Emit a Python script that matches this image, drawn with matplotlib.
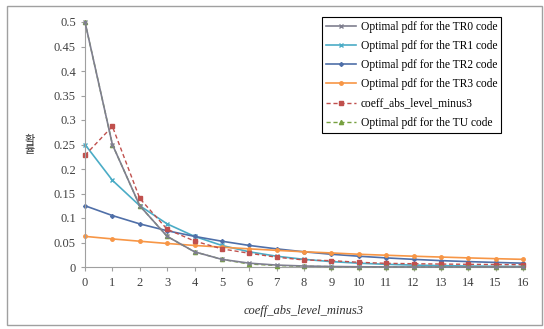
import matplotlib
matplotlib.use("Agg")
import matplotlib.pyplot as plt
from matplotlib.patches import Rectangle

x = list(range(17))
tr0 = [0.5, 0.25, 0.125, 0.0625, 0.031, 0.0156, 0.0078, 0.0039, 0.002, 0.001, 0.0005, 0.0002, 0.0001, 0.0001, 0, 0, 0]
tr1 = [0.25, 0.177, 0.125, 0.088, 0.0625, 0.044, 0.031, 0.022, 0.0156, 0.011, 0.0078, 0.0055, 0.0039, 0.0028, 0.002, 0.0014, 0.001]
tr2 = [0.125, 0.105, 0.088, 0.074, 0.0625, 0.0526, 0.044, 0.037, 0.031, 0.026, 0.022, 0.0186, 0.0156, 0.013, 0.011, 0.0093, 0.0078]
tr3 = [0.0625, 0.0573, 0.0526, 0.048, 0.044, 0.0405, 0.037, 0.034, 0.031, 0.0287, 0.026, 0.024, 0.022, 0.0203, 0.0186, 0.017, 0.0156]
coeff = [0.228, 0.287, 0.14, 0.077, 0.053, 0.037, 0.028, 0.020, 0.0143, 0.013, 0.0096, 0.0075, 0.0067, 0.006, 0.0055, 0.005, 0.0047]
tu = [0.5, 0.25, 0.125, 0.0625, 0.031, 0.0156, 0.006, 0.003, 0.0015, 0.0008, 0.0004, 0.0002, 0.0001, 0, 0, 0, 0]

yticks = [0, 0.05, 0.1, 0.15, 0.2, 0.25, 0.3, 0.35, 0.4, 0.45, 0.5]
ylabels = ["0", "0.05", "0.1", "0.15", "0.2", "0.25", "0.3", "0.35", "0.4", "0.45", "0.5"]

plt.rcParams['font.family'] = ['Liberation Serif', 'DejaVu Serif']

fig = plt.figure(figsize=(5.44, 3.29), dpi=100)
W, H = 544, 329
fig.patches.append(Rectangle((7 / W, 1 - 325 / H), 535 / W, 319 / H, transform=fig.transFigure,
                             fill=False, edgecolor="#a0a0a0", linewidth=1.0))
ax = fig.add_axes([85 / W, 1 - 267 / H, (523 - 85) / W, (267 - 22) / H])

ax.plot(x, tr0, color="#7f7f8f", marker="x", markersize=2.5, linewidth=1.2, label="Optimal pdf for the TR0 code", clip_on=False, zorder=5)
ax.plot(x, tr1, color="#4bacc6", marker="x", markersize=2.5, linewidth=1.2, label="Optimal pdf for the TR1 code", clip_on=False)
ax.plot(x, tr2, color="#4f6fa8", marker="D", markersize=2, linewidth=1.2, label="Optimal pdf for the TR2 code", clip_on=False)
ax.plot(x, tr3, color="#f79646", marker="o", markersize=2.5, linewidth=1.2, label="Optimal pdf for the TR3 code", clip_on=False)
ax.plot(x, coeff, color="#c0504d", marker="s", markersize=3.5, linewidth=1.0, linestyle=(0, (3, 2)), label="coeff_abs_level_minus3", clip_on=False)
ax.plot(x, tu, color="#77a040", marker="^", markersize=3, linewidth=1.0, linestyle=(0, (3, 2)), label="Optimal pdf for the TU code", clip_on=False, zorder=4)

ax.set_xlim(0, 16)
ax.set_ylim(0, 0.5)
ax.set_xticks(x)
ax.set_yticks(yticks)
ax.set_yticklabels(ylabels)
ax.tick_params(axis="both", labelsize=9, colors="#404040", length=3, color="#a0a0a0")
ax.tick_params(axis="x", pad=4)
for s in ["top", "right"]:
    ax.spines[s].set_visible(False)
for s in ["left", "bottom"]:
    ax.spines[s].set_color("#a0a0a0")

ax.set_xlabel("coeff_abs_level_minus3", fontsize=9, style="italic", labelpad=12, color="#303030")
fig.text(30 / W, 1 - 145 / H, "확\n률", family=["Noto Sans CJK KR", "DejaVu Sans"], fontsize=8,
         ha="center", va="center", linespacing=1.0, color="#303030")

leg = ax.legend(loc="upper left", bbox_to_anchor=((322 - 85) / (523 - 85), 1 + 5 / 245), fontsize=8.3,
                frameon=True, fancybox=False, edgecolor="black", framealpha=1, borderpad=0.35,
                handlelength=2.6, labelspacing=0.62, handletextpad=0.4, borderaxespad=0)
leg.get_frame().set_linewidth(0.8)

fig.savefig("out.png", dpi=100)
